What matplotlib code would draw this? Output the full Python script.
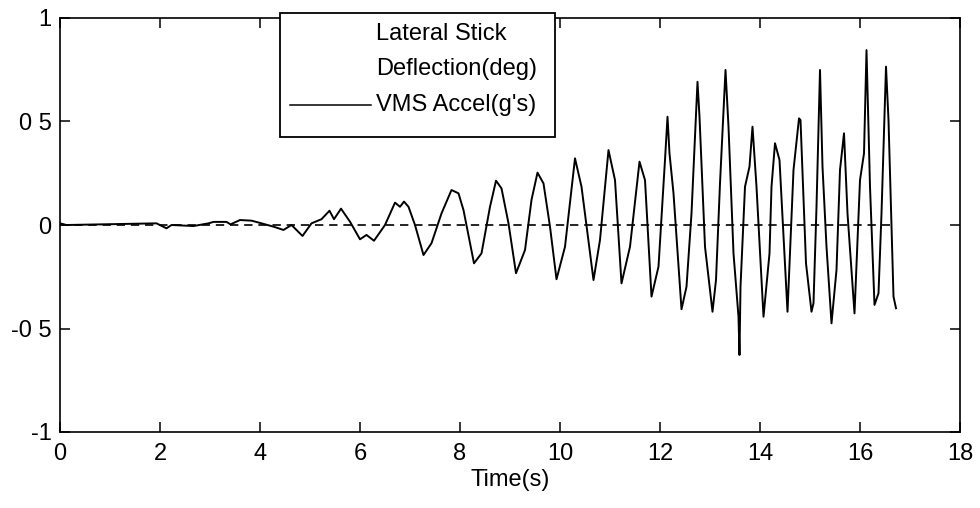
#Lateral stick vs VMS acceleration time history

import matplotlib
matplotlib.use('Agg')
import matplotlib.pyplot as plt
from matplotlib.patches import Rectangle
from matplotlib.lines import Line2D

plt.rcParams['font.family'] = ['Liberation Sans', 'DejaVu Sans']

#data
time_s = [0.0, 0.13, 1.93, 2.13, 2.23, 2.67, 2.97, 3.07, 3.33, 3.41, 3.6, 3.83, 4.0,
          4.27, 4.47, 4.63, 4.85, 5.03, 5.23, 5.39, 5.48, 5.62, 5.8, 6.0, 6.13, 6.28,
          6.5, 6.7, 6.8, 6.88, 6.97, 7.1, 7.27, 7.43, 7.63, 7.83, 7.97, 8.07, 8.28,
          8.43, 8.6, 8.72, 8.83, 8.97, 9.12, 9.3, 9.43, 9.55, 9.67, 9.8, 9.93,
          10.1, 10.3, 10.43, 10.67, 10.8, 10.97, 11.1, 11.23, 11.4, 11.59, 11.7,
          11.83, 11.97, 12.1, 12.15, 12.19, 12.27, 12.43, 12.53, 12.63, 12.75,
          12.79, 12.9, 13.05, 13.12, 13.2, 13.31, 13.37, 13.47, 13.57, 13.59,
          13.61, 13.7, 13.79, 13.85, 13.93, 14.07, 14.19, 14.23, 14.3, 14.39,
          14.55, 14.67, 14.78, 14.81, 14.92, 15.03, 15.07, 15.13, 15.2, 15.25,
          15.33, 15.43, 15.53, 15.6, 15.68, 15.75, 15.89, 16.0, 16.08, 16.13,
          16.2, 16.29, 16.37, 16.43, 16.52, 16.57, 16.67, 16.72]
accel_g = [0.008, 0.0, 0.008, -0.016, 0.0, -0.005, 0.008, 0.015, 0.015, 0.003, 0.024, 0.021, 0.01,
           -0.008, -0.024, 0.0, -0.053, 0.008, 0.028, 0.069, 0.028, 0.079, 0.016, -0.069, -0.048, -0.076,
           0.0, 0.108, 0.088, 0.113, 0.088, 0.0, -0.145, -0.088, 0.056, 0.169, 0.153, 0.072, -0.185,
           -0.137, 0.088, 0.214, 0.177, 0.008, -0.233, -0.121, 0.121, 0.253, 0.201, -0.008, -0.262,
           -0.105, 0.322, 0.185, -0.266, -0.072, 0.362, 0.217, -0.282, -0.105, 0.306, 0.217,
           -0.346, -0.201, 0.314, 0.523, 0.346, 0.153, -0.407, -0.298, 0.056, 0.692,
           0.523, -0.105, -0.419, -0.266, 0.201, 0.749, 0.475, -0.137, -0.443, -0.628,
           -0.298, 0.185, 0.282, 0.475, 0.185, -0.443, -0.137, 0.185, 0.395, 0.314,
           -0.419, 0.266, 0.515, 0.507, -0.185, -0.419, -0.378, 0.088, 0.749, 0.282,
           -0.105, -0.475, -0.217, 0.266, 0.443, 0.056, -0.427, 0.217, 0.346, 0.845,
           0.185, -0.386, -0.33, 0.056, 0.765, 0.507, -0.346, -0.402]

stick_t = [0.0, 16.7]
stick_deg = [0.0, 0.0]

x_ticks = [0, 2, 4, 6, 8, 10, 12, 14, 16, 18]
y_ticks = [-1, -0.5, 0, 0.5, 1]
y_tick_labels = ['-1', '-0 5', '0', '0 5', '1']

fig = plt.figure(figsize=(9.8, 5.08), dpi=100)
ax = fig.add_axes([60 / 980, 76 / 508, 900 / 980, 414 / 508])

ax.plot(stick_t, stick_deg, color='black', linewidth=1.2, dashes=(5, 3.5))
ax.plot(time_s, accel_g, color='black', linewidth=1.4)

ax.set_xlim(0, 18)
ax.set_ylim(-1, 1)
ax.set_xticks(x_ticks)
ax.set_yticks(y_ticks)
ax.set_yticklabels(y_tick_labels)
ax.tick_params(direction='in', length=7, width=1.1, top=True, right=True,
               labelsize=17)
ax.tick_params(axis='x', pad=8)
ax.tick_params(axis='y', pad=6)
for s in ax.spines.values():
    s.set_linewidth(1.2)
ax.set_xlabel('Time(s)', fontsize=17, labelpad=3)

#legend box drawn by hand to match the layout
box = Rectangle((0.244, 0.7126), 0.306, 0.30, transform=ax.transAxes,
                facecolor='white', edgecolor='black', linewidth=1.3,
                clip_on=False, zorder=5)
ax.add_patch(box)
ax.text(0.351, 0.962, 'Lateral Stick', transform=ax.transAxes, fontsize=17,
        va='center', ha='left', zorder=6)
ax.text(0.351, 0.878, 'Deflection(deg)', transform=ax.transAxes, fontsize=17,
        va='center', ha='left', zorder=6)
ax.add_line(Line2D([0.255, 0.346], [0.79, 0.79], transform=ax.transAxes,
                   color='black', linewidth=1.1, clip_on=False, zorder=6))
ax.text(0.351, 0.79, "VMS Accel(g's)", transform=ax.transAxes, fontsize=17,
        va='center', ha='left', zorder=6)

fig.savefig('out.png', dpi=100)
